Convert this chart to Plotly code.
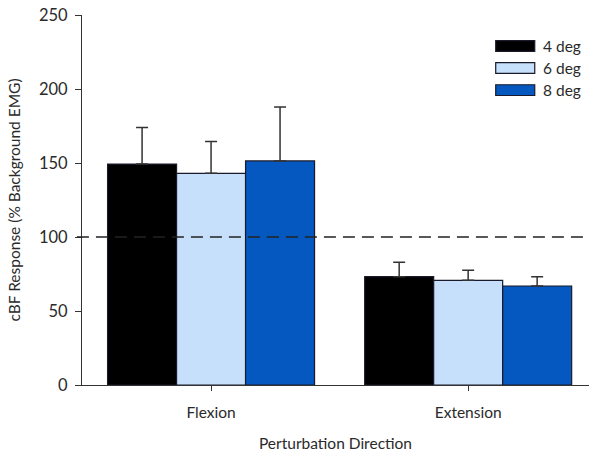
import plotly.graph_objects as go

categories = ["Flexion", "Extension"]
series_names = ["4 deg", "6 deg", "8 deg"]
values_4 = [149.3, 73.2]
values_6 = [143.0, 70.7]
values_8 = [151.4, 66.9]
err_4 = [24.7, 9.7]
err_6 = [21.6, 6.8]
err_8 = [36.4, 6.3]
colors = ["#000000", "#C6E0FB", "#0458BF"]
y_ticks = [0, 50, 100, 150, 200, 250]
ref_value = 100

FONT = "Lato"
TXT = "#2a2a2a"
values = [values_4, values_6, values_8]
errs = [err_4, err_6, err_8]

fig = go.Figure()
for name, v, e, c in zip(series_names, values, errs, colors):
    fig.add_trace(go.Bar(
        x=categories, y=v, name=name,
        marker=dict(color=c, line=dict(color="#1a1a2a", width=1.2)),
        error_y=dict(type="data", array=e, symmetric=False, arrayminus=[0] * len(e),
                     color="#333333", thickness=1.5, width=6),
        showlegend=False,
    ))

fig.add_shape(type="line", xref="paper", yref="y", x0=-0.01, x1=1, y0=ref_value, y1=ref_value,
              line=dict(color="#222222", width=1.5, dash="12px,7px"), layer="above")

# custom legend (wide swatches like the reference)
leg_x0, leg_x1 = 0.816, 0.893
leg_y = [0.916, 0.857, 0.797]
for name, c, yy in zip(series_names, colors, leg_y):
    fig.add_shape(type="rect", xref="paper", yref="paper", x0=leg_x0, x1=leg_x1,
                  y0=yy - 0.0145, y1=yy + 0.0145,
                  fillcolor=c, line=dict(color="#1a1a2a", width=1.2))
    fig.add_annotation(xref="paper", yref="paper", x=leg_x1 + 0.012, y=yy, text=name,
                       showarrow=False, xanchor="left", yanchor="middle",
                       font=dict(family=FONT, size=15.5, color=TXT))

fig.update_layout(
    width=589, height=453,
    margin=dict(l=82, r=0, t=15, b=68),
    paper_bgcolor="white", plot_bgcolor="white",
    barmode="group", bargap=0.195, bargroupgap=0,
    font=dict(family=FONT, size=15, color=TXT),
    xaxis=dict(range=[-0.502, 1.47], showline=True, linecolor="#333333", linewidth=1.2,
               ticks="outside", ticklen=5, tickcolor="#333333", showgrid=False,
               ticklabelstandoff=8,
               title=dict(text="Perturbation Direction", font=dict(size=15.5), standoff=18),
               tickfont=dict(size=15.5)),
    yaxis=dict(range=[0, 250], tickvals=y_ticks, showline=True, linecolor="#333333", linewidth=1.2,
               ticks="outside", ticklen=6, tickcolor="#333333", showgrid=False, zeroline=False,
               ticklabelstandoff=4,
               title=dict(text="cBF Response (% Background EMG)", font=dict(size=15.5), standoff=14),
               tickfont=dict(size=16.5)),
)

fig.write_html("out.html")
